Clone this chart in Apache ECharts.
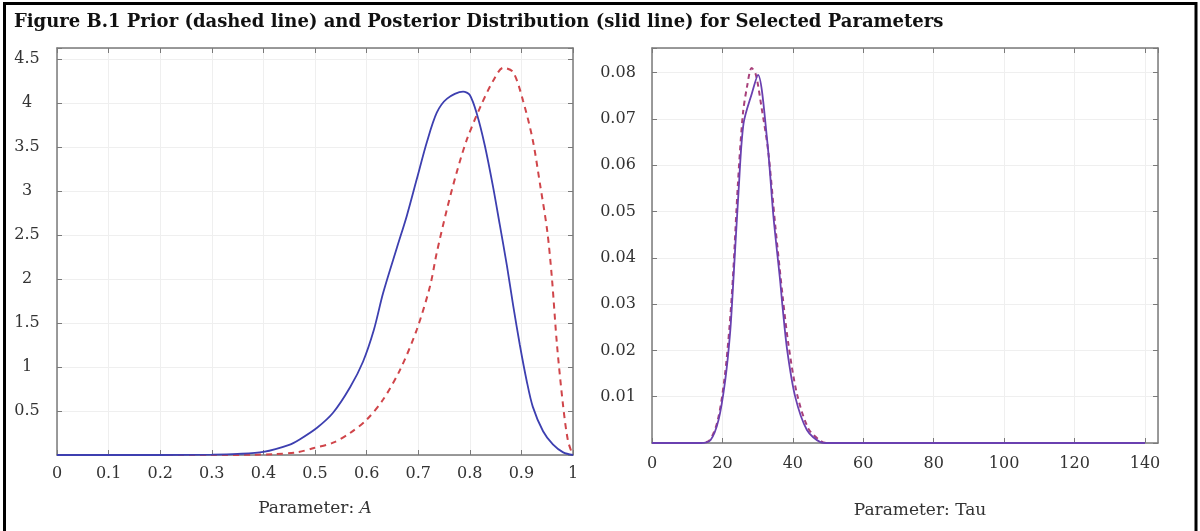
<!DOCTYPE html>
<html>
<head>
<meta charset="utf-8">
<style>
html,body{margin:0;padding:0;background:#fff;}
#c{width:1200px;height:531px;}
</style>
<script src="https://cdn.jsdelivr.net/npm/echarts@6/dist/echarts.min.js"></script>
</head>
<body>
<div id="c"></div>
<script>
// ---- Data: Parameter A ----
const aX        = [0, 0.1, 0.2, 0.3, 0.35, 0.4, 0.45, 0.471, 0.504, 0.535, 0.568, 0.593, 0.614, 0.632, 0.659, 0.678, 0.697, 0.717, 0.736, 0.756, 0.787, 0.800, 0.814, 0.829, 0.845, 0.858, 0.872, 0.884, 0.897, 0.91, 0.922, 0.942, 0.961, 0.981, 1.0];
const aPosterior= [0, 0, 0, 0.004, 0.012, 0.035, 0.115, 0.18, 0.31, 0.48, 0.77, 1.06, 1.42, 1.84, 2.36, 2.72, 3.13, 3.56, 3.89, 4.05, 4.13, 4.09, 3.87, 3.52, 3.05, 2.62, 2.15, 1.70, 1.25, 0.85, 0.55, 0.27, 0.12, 0.03, 0];
const aPriorX   = [0, 0.1, 0.2, 0.3, 0.38, 0.42, 0.465, 0.498, 0.535, 0.568, 0.60, 0.632, 0.665, 0.697, 0.723, 0.736, 0.756, 0.775, 0.794, 0.820, 0.845, 0.865, 0.884, 0.903, 0.922, 0.936, 0.950, 0.959, 0.969, 0.981, 0.99, 0.998, 1.0];
const aPrior    = [0, 0, 0, 0, 0.003, 0.01, 0.03, 0.08, 0.14, 0.25, 0.40, 0.63, 0.97, 1.42, 1.92, 2.30, 2.80, 3.22, 3.58, 3.95, 4.25, 4.40, 4.35, 4.03, 3.58, 3.08, 2.55, 2.02, 1.25, 0.55, 0.17, 0.02, 0];

// ---- Data: Parameter Tau ----
const tX        = [0, 10, 13.8, 16.6, 18.9, 20.8, 22.2, 23.1, 24.6, 26.0, 28.4, 30.1, 32.7, 34.5, 36.4, 37.0, 38.4, 40.7, 44.0, 47.8, 50, 60, 80, 100, 120, 140];
const tPosterior= [0, 0, 0, 0.0006, 0.005, 0.0136, 0.024, 0.035, 0.0546, 0.069, 0.0756, 0.0795, 0.0654, 0.0488, 0.035, 0.030, 0.020, 0.0099, 0.0028, 0.0002, 0, 0, 0, 0, 0, 0];
const tPriorX   = [0, 10, 13.8, 16.4, 18.7, 20.6, 22.0, 23.0, 24.4, 25.8, 27.0, 28.3, 29.5, 31.0, 33.0, 35.0, 37.2, 38.8, 41.2, 44.5, 48.2, 50, 60, 80, 100, 120, 140];
const tPrior    = [0, 0, 0, 0.0006, 0.005, 0.014, 0.025, 0.036, 0.056, 0.071, 0.077, 0.081, 0.0795, 0.073, 0.063, 0.047, 0.031, 0.021, 0.0105, 0.003, 0.0003, 0, 0, 0, 0, 0, 0];

const titleText = 'Figure B.1 Prior (dashed line) and Posterior Distribution (slid line) for Selected Parameters';
const aAxisName = 'Parameter: ';
const aAxisItalic = 'A';
const tAxisName = 'Parameter: Tau';

function pairs(xs, ys){ return xs.map((x,i)=>[x, ys[i]]); }

const FONT = '"DejaVu Serif", "Liberation Serif", serif';
const AXC = '#7a7a7a';
const lbl = {fontFamily: FONT, fontSize: 16, color: '#333'};

function boxAxis(base){
  return Object.assign({
    axisLine:{show:true, onZero:false, lineStyle:{color:AXC, width:1.5}},
    axisTick:{show:true, inside:true, length:5, lineStyle:{color:AXC}},
    splitLine:{show:false},
    axisLabel:{show:false}
  }, base);
}

const chart = echarts.init(document.getElementById('c'), null, {renderer:'canvas'});
chart.setOption({
  backgroundColor:'#fff',
  animation:false,
  title:{
    text: titleText, left: 9, top: 8,
    textStyle:{fontFamily: FONT, fontWeight:'bold', fontSize:18, color:'#111'}
  },
  graphic:[{
    type:'rect', silent:true,
    shape:{x:4.5, y:3.5, width:1191.5, height:600},
    style:{fill:null, stroke:'#000', lineWidth:3}
  }],
  grid:[
    {left:57, top:48, width:516, height:407, containLabel:false},
    {left:652, top:48, width:506, height:395, containLabel:false}
  ],
  xAxis:[
    {type:'value', gridIndex:0, min:0, max:1, interval:0.1, position:'bottom',
     axisLine:{show:true, onZero:false, lineStyle:{color:AXC, width:1.5}},
     axisTick:{show:true, inside:true, length:5, lineStyle:{color:AXC}},
     splitLine:{show:true, lineStyle:{color:'#efefef', width:1}},
     axisLabel:Object.assign({margin:11, formatter:v=>String(Math.round(v*10)/10)}, lbl),
     name: '{n|'+aAxisName+'}{i|'+aAxisItalic+'}', nameLocation:'middle', nameGap:45,
     nameTextStyle:{rich:{n:{fontFamily:FONT, fontSize:17, color:'#333'}, i:{fontFamily:FONT, fontSize:17, fontStyle:'italic', color:'#333'}}}
    },
    boxAxis({type:'value', gridIndex:0, min:0, max:1, interval:0.1, position:'top'}),
    {type:'value', gridIndex:1, min:0, max:143.7, interval:20, position:'bottom',
     axisLine:{show:true, onZero:false, lineStyle:{color:AXC, width:1.5}},
     axisTick:{show:true, inside:true, length:5, lineStyle:{color:AXC}},
     splitLine:{show:true, lineStyle:{color:'#efefef', width:1}},
     axisLabel:Object.assign({margin:13, showMaxLabel:false, formatter:v=>(v%20===0?String(v):'')}, lbl),
     name: tAxisName, nameLocation:'middle', nameGap:59,
     nameTextStyle:{fontFamily:FONT, fontSize:17, color:'#333', padding:[0,0,0,30]}
    },
    boxAxis({type:'value', gridIndex:1, min:0, max:143.7, interval:20, position:'top'})
  ],
  yAxis:[
    {type:'value', gridIndex:0, min:0, max:4.625, interval:0.5, position:'left',
     axisLine:{show:true, onZero:false, lineStyle:{color:AXC, width:1.5}},
     axisTick:{show:true, inside:true, length:5, lineStyle:{color:AXC}},
     splitLine:{show:true, lineStyle:{color:'#efefef', width:1}},
     axisLabel:Object.assign({margin:30, align:'center', formatter:v=>{
       if (v===0) return ''; const r=Math.round(v*2)/2; return Math.abs(r-v)<1e-6?String(r):'';}}, lbl)
    },
    boxAxis({type:'value', gridIndex:0, min:0, max:4.625, interval:0.5, position:'right'}),
    {type:'value', gridIndex:1, min:0, max:0.0853, interval:0.01, position:'left',
     axisLine:{show:true, onZero:false, lineStyle:{color:AXC, width:1.5}},
     axisTick:{show:true, inside:true, length:5, lineStyle:{color:AXC}},
     splitLine:{show:true, lineStyle:{color:'#efefef', width:1}},
     axisLabel:Object.assign({margin:34, align:'center', formatter:v=>{
       if (v<1e-9) return ''; const r=Math.round(v*100)/100; return Math.abs(r-v)<1e-7?r.toFixed(2):'';}}, lbl)
    },
    boxAxis({type:'value', gridIndex:1, min:0, max:0.0853, interval:0.01, position:'right'})
  ],
  series:[
    {type:'line', name:'Prior A', xAxisIndex:0, yAxisIndex:0, data:pairs(aPriorX, aPrior),
     smooth:0.3, showSymbol:false, lineStyle:{color:'#d0454a', width:2, type:[6,5]}, z:3},
    {type:'line', name:'Posterior A', xAxisIndex:0, yAxisIndex:0, data:pairs(aX, aPosterior),
     smooth:0.3, showSymbol:false, lineStyle:{color:'#3d3fb0', width:1.8}, z:4},
    {type:'line', name:'Prior Tau', xAxisIndex:2, yAxisIndex:2, data:pairs(tPriorX, tPrior),
     smooth:0.3, showSymbol:false, lineStyle:{color:'#a8407a', width:2, type:[5,4]}, z:3},
    {type:'line', name:'Posterior Tau', xAxisIndex:2, yAxisIndex:2, data:pairs(tX, tPosterior),
     smooth:0.3, showSymbol:false, lineStyle:{color:'#6a40b0', width:1.8}, z:4}
  ]
});
</script>
</body>
</html>
